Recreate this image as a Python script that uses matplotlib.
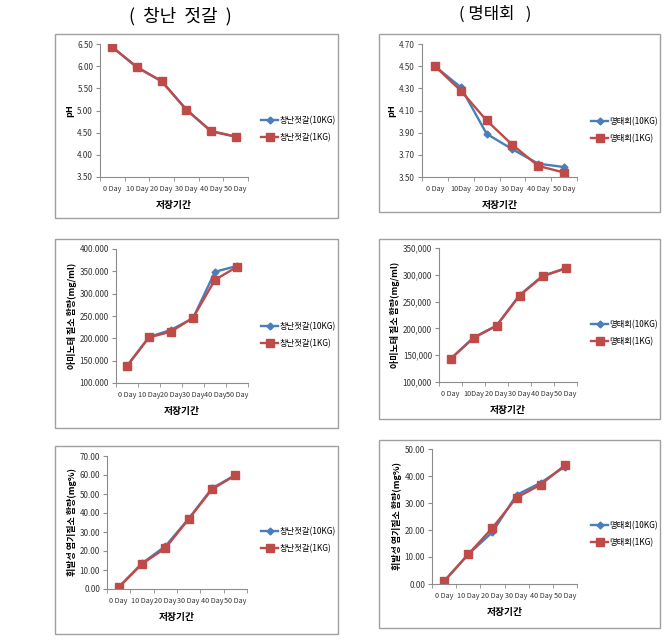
import matplotlib.pyplot as plt
from matplotlib.patches import Rectangle

plt.rcParams['font.family'] = ['Noto Sans CJK KR', 'DejaVu Sans']

W, H = 672, 644

days = ["0 Day", "10 Day", "20 Day", "30 Day", "40 Day", "50 Day"]
days_b = ["0 Day", "10Day", "20 Day", "30 Day", "40 Day", "50 Day"]

# pH
ph_c10 = [6.43, 5.97, 5.66, 5.02, 4.54, 4.41]
ph_c1 = [6.43, 5.98, 5.66, 5.02, 4.53, 4.41]
ph_m10 = [4.50, 4.31, 3.89, 3.75, 3.62, 3.59]
ph_m1 = [4.50, 4.28, 4.01, 3.79, 3.60, 3.54]

# amino nitrogen
am_c10 = [138, 203, 219, 245, 349, 362]
am_c1 = [138, 202, 215, 246, 331, 360]
am_m10 = [143, 183, 205, 262, 298, 312]
am_m1 = [143, 182, 205, 261, 297, 312]

# volatile basic nitrogen
vb_c10 = [1.0, 13.5, 22.5, 37.0, 53.0, 60.0]
vb_c1 = [0.8, 13.2, 21.5, 36.8, 52.5, 59.8]
vb_m10 = [1.0, 11.0, 19.2, 33.0, 37.5, 43.5]
vb_m1 = [1.0, 11.0, 20.8, 32.0, 36.8, 44.0]

ph_c_ticks = [3.5, 4.0, 4.5, 5.0, 5.5, 6.0, 6.5]
ph_m_ticks = [3.5, 3.7, 3.9, 4.1, 4.3, 4.5, 4.7]
am_c_ticks = [100, 150, 200, 250, 300, 350, 400]
am_m_ticks = [100, 150, 200, 250, 300, 350]
vb_c_ticks = [0, 10, 20, 30, 40, 50, 60, 70]
vb_m_ticks = [0, 10, 20, 30, 40, 50]

blue = '#4A7EBB'
red = '#BE4B48'
grey = '#8c8c8c'

fig = plt.figure(figsize=(W / 100, H / 100), dpi=100)


def fbox(x0, y0, x1, y1):
    return [x0 / W, 1 - y1 / H, (x1 - x0) / W, (y1 - y0) / H]


def panel(box, plot, s10, s1, names, ticks, fmt, xlabels, ylabel, leg_xy):
    fig.add_artist(Rectangle((box[0] / W, 1 - box[3] / H), (box[2] - box[0]) / W,
                             (box[3] - box[1]) / H, transform=fig.transFigure,
                             fill=False, edgecolor='#a0a0a0', lw=1.0))
    ax = fig.add_axes(fbox(*plot))
    x = range(len(s10))
    ax.plot(x, s10, color=blue, marker='D', ms=3.5, lw=1.7, label=names[0])
    ax.plot(x, s1, color=red, marker='s', ms=5.5, lw=1.7, label=names[1])
    ax.set_xlim(-0.5, 5.5)
    ax.set_ylim(ticks[0], ticks[-1])
    ax.set_yticks(ticks)
    ax.set_yticklabels([fmt % t for t in ticks], fontsize=5.8, color='#333333')
    ax.set_xticks(list(x))
    ax.set_xticklabels(xlabels, fontsize=5.2, color='#333333')
    ax.set_xticks([i - 0.5 for i in range(7)], minor=True)
    ax.tick_params(axis='x', which='major', length=0, pad=6)
    ax.tick_params(axis='x', which='minor', length=3, color=grey, direction='out')
    ax.tick_params(axis='y', length=3, color=grey, direction='out', pad=2)
    for s in ['top', 'right']:
        ax.spines[s].set_visible(False)
    for s in ['left', 'bottom']:
        ax.spines[s].set_color(grey)
        ax.spines[s].set_linewidth(0.8)
    ax.set_xlabel('저장기간', fontsize=7, fontweight='bold', labelpad=5)
    ax.set_ylabel(ylabel, fontsize=6.5, fontweight='bold', labelpad=2)
    ax.legend(loc='center left', bbox_to_anchor=(leg_xy[0] / W, 1 - leg_xy[1] / H),
              bbox_transform=fig.transFigure, frameon=False, fontsize=6,
              handlelength=2.0, handletextpad=0.2, labelspacing=0.9,
              borderaxespad=0)
    return ax


cn = ['창난젓갈(10KG)', '창난젓갈(1KG)']
mn = ['명태회(10KG)', '명태회(1KG)']

panel((55, 34, 338, 218), (100, 44, 248, 177), ph_c10, ph_c1, cn, ph_c_ticks,
      '%.2f', days, 'pH', (258, 129))
panel((379, 34, 660, 212), (422, 44, 577, 177), ph_m10, ph_m1, mn, ph_m_ticks,
      '%.2f', days_b, 'pH', (588, 130))

panel((55, 239, 338, 428), (116, 249, 248, 383), am_c10, am_c1, cn, am_c_ticks,
      '%d.000', days, '아미노태 질소 함량(mg/ml)', (258, 335))
panel((379, 239, 660, 419), (439, 248, 577, 382), am_m10, am_m1, mn, am_m_ticks,
      '%d,000', days_b, '아미노태 질소 함량(mg/ml)', (588, 333))

panel((55, 446, 338, 634), (107, 456, 247, 589), vb_c10, vb_c1, cn, vb_c_ticks,
      '%.2f', days, '휘발성 염기질소 함량(mg%)', (258, 540))
panel((379, 440, 660, 628), (432, 449, 577, 584), vb_m10, vb_m1, mn, vb_m_ticks,
      '%.2f', days, '휘발성 염기질소 함량(mg%)', (588, 534))

fig.text(180 / W, 1 - 16 / H, '(  창난  젓갈  )', ha='center', va='center',
         fontsize=13, fontweight='light')
fig.text(495 / W, 1 - 14 / H, '( 명태회   )', ha='center', va='center',
         fontsize=12, fontweight='light')

fig.savefig('out.png', dpi=100)
